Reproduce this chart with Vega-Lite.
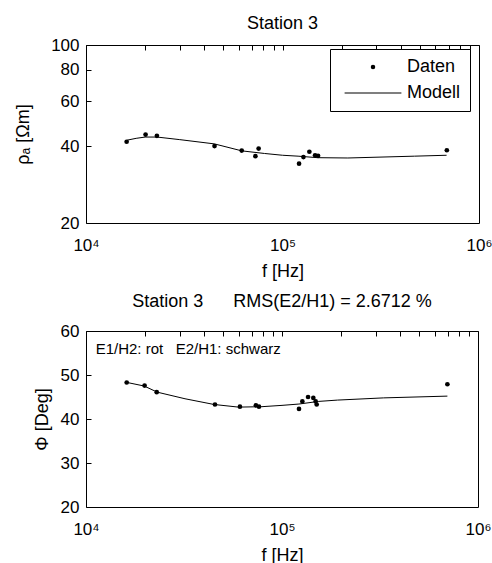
{
  "$schema": "https://vega.github.io/schema/vega-lite/v6.json",
  "background": "white",
  "padding": {"left": 14, "top": 14, "right": 0, "bottom": 0},
  "config": {
    "font": "Liberation Sans",
    "view": {"stroke": "black", "strokeWidth": 1},
    "axis": {
      "grid": true, "gridColor": "black", "gridWidth": 1, "gridOpacity": 1, "gridDash": [5, 3000],
      "domain": false, "ticks": false, "tickSize": 0, "labelPadding": 7, "labelFontSize": 17, "labelColor": "black",
      "labelFont": "Liberation Sans", "titleFont": "Liberation Sans",
      "titleFontSize": 18, "titleFontWeight": "normal", "titleColor": "black",
      "labelOverlap": false, "labelFlush": false
    },
    "axisX": {"labelPadding": 14, "titlePadding": 9},
    "title": {"fontSize": 18, "fontWeight": "normal", "font": "Liberation Sans", "color": "black"},
    "concat": {"spacing": 11}
  },
  "vconcat": [
    {
      "title": {"text": "Station 3", "offset": 3},
      "width": 393,
      "height": 178,
      "layer": [
        {
          "data": {"values": [
            {"f": 16200, "rho": 42.3}, {"f": 18000, "rho": 43.0}, {"f": 20000, "rho": 43.5},
            {"f": 23000, "rho": 43.5}, {"f": 30000, "rho": 42.5}, {"f": 45000, "rho": 40.9},
            {"f": 62000, "rho": 38.4}, {"f": 81000, "rho": 37.5}, {"f": 100000, "rho": 36.9},
            {"f": 120000, "rho": 36.6}, {"f": 151000, "rho": 36.1}, {"f": 215000, "rho": 36.0},
            {"f": 470000, "rho": 36.6}, {"f": 684000, "rho": 36.9}
          ]},
          "mark": {"type": "line", "color": "black", "strokeWidth": 1},
          "encoding": {
            "x": {"field": "f", "type": "quantitative",
              "scale": {"type": "log", "domain": [10000, 1000000], "nice": false},
              "axis": {"orient": "bottom", "title": "f [Hz]",
                "values": [10000, 20000, 30000, 40000, 50000, 60000, 70000, 80000, 90000, 100000, 200000, 300000, 400000, 500000, 600000, 700000, 800000, 900000, 1000000],
                "labelExpr": "datum.value == 10000 ? '10⁴' : datum.value == 100000 ? '10⁵' : datum.value == 1000000 ? '10⁶' : ''"}},
            "y": {"field": "rho", "type": "quantitative",
              "scale": {"type": "log", "domain": [20, 100], "nice": false, "zero": false},
              "axis": {"orient": "left", "title": "ρₐ [Ωm]", "titlePadding": 18, "values": [20, 40, 60, 80, 100]}}
          }
        },
        {
          "data": {"values": [
            {"f": 16100, "rho": 41.7, "series": "Daten"}, {"f": 20100, "rho": 44.5, "series": "Daten"},
            {"f": 22950, "rho": 44.0, "series": "Daten"}, {"f": 45100, "rho": 40.1, "series": "Daten"},
            {"f": 62000, "rho": 38.5, "series": "Daten"}, {"f": 72800, "rho": 36.6, "series": "Daten"},
            {"f": 75600, "rho": 39.2, "series": "Daten"}, {"f": 121400, "rho": 34.2, "series": "Daten"},
            {"f": 127800, "rho": 36.3, "series": "Daten"}, {"f": 137000, "rho": 38.1, "series": "Daten"},
            {"f": 146500, "rho": 36.9, "series": "Daten"}, {"f": 151700, "rho": 36.7, "series": "Daten"},
            {"f": 686000, "rho": 38.6, "series": "Daten"}
          ]},
          "mark": {"type": "point", "filled": true, "color": "black", "size": 22, "opacity": 1},
          "encoding": {
            "x": {"field": "f", "type": "quantitative",
              "scale": {"type": "log", "domain": [10000, 1000000], "nice": false},
              "axis": {"orient": "top", "labels": false, "title": null,
                "values": [10000, 20000, 30000, 40000, 50000, 60000, 70000, 80000, 90000, 100000, 200000, 300000, 400000, 500000, 600000, 700000, 800000, 900000, 1000000]}},
            "y": {"field": "rho", "type": "quantitative",
              "scale": {"type": "log", "domain": [20, 100], "nice": false, "zero": false},
              "axis": {"orient": "right", "labels": false, "title": null, "values": [20, 40, 60, 80, 100]}},
            "shape": {"field": "series", "type": "nominal",
              "scale": {"domain": ["Daten", "Modell"], "range": ["circle", "M-12.7,-0.25H12.7V0.25H-12.7Z"]},
              "legend": {
                "orient": "none", "legendX": 244, "legendY": 4, "title": null,
                "strokeColor": "black", "fillColor": "white", "padding": 9,
                "labelFontSize": 18, "labelFont": "Liberation Sans", "labelColor": "black",
                "symbolSize": 20, "symbolOffset": 25, "labelOffset": 25, "rowPadding": 8,
                "symbolStrokeColor": "black", "symbolStrokeWidth": 0,
                "encode": {"symbols": {"update": {
                  "fill": {"value": "black"}, "opacity": {"value": 1}
                }}}
              }}
          }
        }
      ],
      "resolve": {"axis": {"x": "independent", "y": "independent"}}
    },
    {
      "title": {"text": "Station 3\u00a0\u00a0\u00a0\u00a0\u00a0\u00a0RMS(E2/H1) = 2.6712 %", "offset": 11},
      "width": 392,
      "height": 176,
      "layer": [
        {
          "data": {"values": [
            {"f": 16200, "phi": 48.3}, {"f": 19800, "phi": 47.5}, {"f": 23100, "phi": 46.1},
            {"f": 32000, "phi": 44.6}, {"f": 45000, "phi": 43.3}, {"f": 60000, "phi": 42.7},
            {"f": 79000, "phi": 42.8}, {"f": 100000, "phi": 43.1}, {"f": 122000, "phi": 43.4},
            {"f": 154000, "phi": 44.0}, {"f": 192000, "phi": 44.3}, {"f": 330000, "phi": 44.8},
            {"f": 698000, "phi": 45.2}
          ]},
          "mark": {"type": "line", "color": "black", "strokeWidth": 1},
          "encoding": {
            "x": {"field": "f", "type": "quantitative",
              "scale": {"type": "log", "domain": [10000, 1000000], "nice": false},
              "axis": {"orient": "bottom", "title": "f [Hz]",
                "values": [10000, 20000, 30000, 40000, 50000, 60000, 70000, 80000, 90000, 100000, 200000, 300000, 400000, 500000, 600000, 700000, 800000, 900000, 1000000],
                "labelExpr": "datum.value == 10000 ? '10⁴' : datum.value == 100000 ? '10⁵' : datum.value == 1000000 ? '10⁶' : ''"}},
            "y": {"field": "phi", "type": "quantitative",
              "scale": {"domain": [20, 60], "nice": false, "zero": false},
              "axis": {"orient": "left", "title": "Φ [Deg]", "titlePadding": 9, "values": [20, 30, 40, 50, 60]}}
          }
        },
        {
          "data": {"values": [
            {"f": 16130, "phi": 48.3}, {"f": 19900, "phi": 47.6}, {"f": 22950, "phi": 46.1},
            {"f": 45500, "phi": 43.3}, {"f": 61000, "phi": 42.8}, {"f": 73600, "phi": 43.1},
            {"f": 76300, "phi": 42.8}, {"f": 122100, "phi": 42.3}, {"f": 127000, "phi": 44.0},
            {"f": 135800, "phi": 45.0}, {"f": 144500, "phi": 44.8}, {"f": 148500, "phi": 44.0},
            {"f": 150300, "phi": 43.3}, {"f": 698000, "phi": 47.9}
          ]},
          "mark": {"type": "point", "filled": true, "color": "black", "size": 22, "opacity": 1},
          "encoding": {
            "x": {"field": "f", "type": "quantitative",
              "scale": {"type": "log", "domain": [10000, 1000000], "nice": false},
              "axis": {"orient": "top", "labels": false, "title": null,
                "values": [10000, 20000, 30000, 40000, 50000, 60000, 70000, 80000, 90000, 100000, 200000, 300000, 400000, 500000, 600000, 700000, 800000, 900000, 1000000]}},
            "y": {"field": "phi", "type": "quantitative",
              "scale": {"domain": [20, 60], "nice": false, "zero": false},
              "axis": {"orient": "right", "labels": false, "title": null, "values": [20, 30, 40, 50, 60]}}
          }
        },
        {
          "data": {"values": [{"note": "E1/H2: rot\u00a0\u00a0\u00a0E2/H1: schwarz"}]},
          "mark": {"type": "text", "align": "left", "baseline": "middle", "fontSize": 15, "font": "Liberation Sans", "color": "black"},
          "encoding": {
            "x": {"datum": 11200, "type": "quantitative", "axis": null},
            "y": {"datum": 56.0, "type": "quantitative", "axis": null},
            "text": {"field": "note", "type": "nominal"}
          }
        }
      ],
      "resolve": {"axis": {"x": "independent", "y": "independent"}}
    }
  ]
}
